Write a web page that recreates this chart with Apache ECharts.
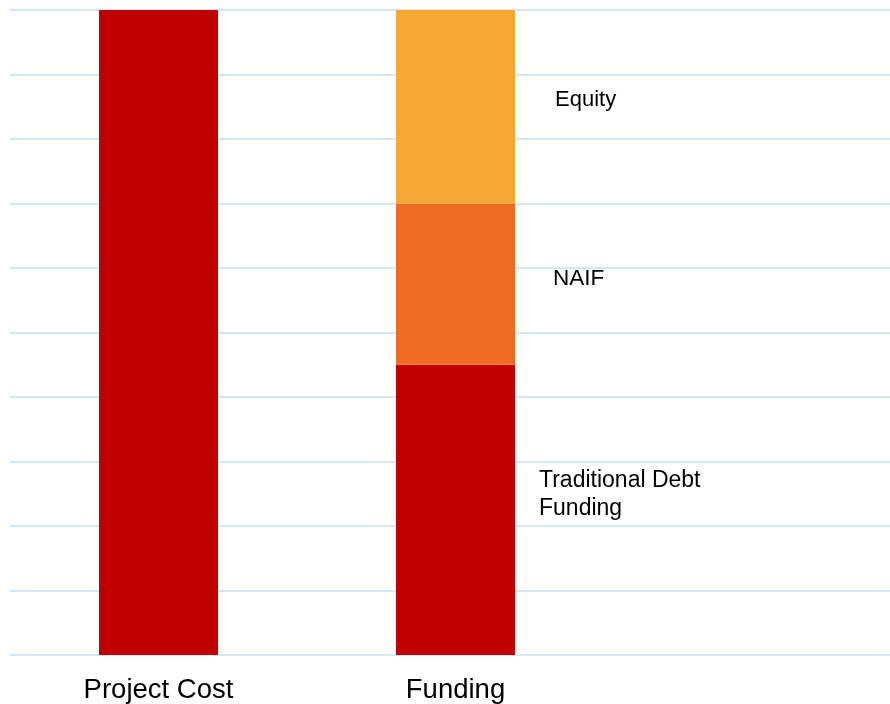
<!DOCTYPE html>
<html>
<head>
<meta charset="utf-8">
<script src="https://cdn.jsdelivr.net/npm/echarts@6/dist/echarts.min.js"></script>
<style>html,body{margin:0;padding:0;background:#fff}#c{width:890px;height:704px}</style>
</head>
<body>
<div id="c"></div>
<script>
const categories = ['Project Cost', 'Funding', ''];
const projectCost = [10, '-', '-'];
const debtFunding = ['-', 4.5, '-'];
const naifFunding = ['-', 2.5, '-'];
const equityFunding = ['-', 3, '-'];
const segmentNames = ['Traditional Debt\nFunding', 'NAIF', 'Equity'];

const chart = echarts.init(document.getElementById('c'));
const font = 'Liberation Sans, Arial, sans-serif';
chart.setOption({
  animation: false,
  grid: { left: 10, top: 10, bottom: 49, right: -11, outerBoundsMode: 'none', containLabel: false },
  xAxis: {
    type: 'category', data: categories,
    axisLine: { show: false }, axisTick: { show: false },
    axisLabel: { fontSize: 27.5, color: '#000', fontFamily: font, margin: 21 }
  },
  yAxis: {
    type: 'value', min: 0, max: 10, interval: 1,
    axisLabel: { show: false }, axisLine: { show: false }, axisTick: { show: false },
    splitLine: { lineStyle: { color: '#D3E7F4', width: 2 } }
  },
  series: [
    { type: 'bar', stack: 'a', data: projectCost, barWidth: 119, itemStyle: { color: '#C00000' } },
    { type: 'bar', stack: 'a', data: debtFunding, barWidth: 119, itemStyle: { color: '#C00000' },
      label: { show: true, formatter: segmentNames[0], position: [143, 130], align: 'left', verticalAlign: 'middle',
        fontSize: 23, lineHeight: 28, color: '#000', fontFamily: font } },
    { type: 'bar', stack: 'a', data: naifFunding, barWidth: 119, itemStyle: { color: '#EE6B22' },
      label: { show: true, formatter: segmentNames[1], position: [157, 75], align: 'left', verticalAlign: 'middle',
        fontSize: 22.5, color: '#000', fontFamily: font } },
    { type: 'bar', stack: 'a', data: equityFunding, barWidth: 119, itemStyle: { color: '#F7A833' },
      label: { show: true, formatter: segmentNames[2], position: [159, 90], align: 'left', verticalAlign: 'middle',
        fontSize: 22, color: '#000', fontFamily: font } }
  ]
});
</script>
</body>
</html>
